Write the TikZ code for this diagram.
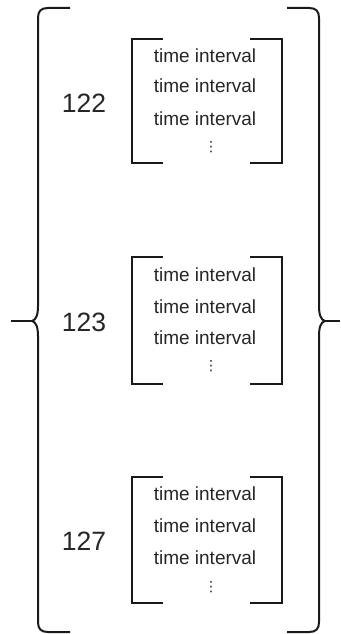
\documentclass[tikz,border=0pt]{standalone}
\usepackage{fontspec}
\setmainfont{Liberation Sans}
\newfontfamily\symfont{DejaVu Sans}
\definecolor{ink}{HTML}{1A1A1A}
\definecolor{txt}{HTML}{262626}
\begin{document}
\begin{tikzpicture}[x=1pt,y=-1pt,
  bracketline/.style={draw=ink, line width=2pt, line cap=butt},
  braceline/.style={draw=ink, line width=2pt},
  item/.style={inner sep=0pt, text=txt, font=\fontsize{19}{20}\selectfont},
  num/.style={inner sep=0pt, text=txt, font=\fontsize{26.5}{28}\selectfont},
  vdot/.style={inner sep=0pt, text=txt, font=\symfont\fontsize{14}{14}\selectfont}]
\useasboundingbox (0,0) rectangle (340,634);

% big braces
\draw[braceline] (70,8) -- (48,8) .. controls (41,8) and (38,11) .. (38,18)
  -- (38,306) .. controls (38,315) and (36,320) .. (32,321)
  .. controls (36,322) and (38,327) .. (38,336)
  -- (38,622) .. controls (38,629) and (41,632) .. (48,632) -- (70,632);
\draw[braceline] (32,321) -- (11,321);
\draw[braceline] (287,8) -- (309,8) .. controls (316,8) and (319,11) .. (319,18)
  -- (319,306) .. controls (319,315) and (321,320) .. (325,321)
  .. controls (321,322) and (319,327) .. (319,336)
  -- (319,622) .. controls (319,629) and (316,632) .. (309,632) -- (287,632);
\draw[braceline] (325,321) -- (340,321);

% block 1
\draw[bracketline] (163,39) -- (132,39) -- (132,163) -- (163,163);
\draw[bracketline] (250,39) -- (282,39) -- (282,163) -- (250,163);
\node[num] (n1) at (84,103) {122};
\node[item] (a1) at (205,56) {time interval};
\node[item] (a2) at (205,86) {time interval};
\node[item] (a3) at (205,119) {time interval};
\node[vdot] (a4) at (211,147) {⋮};

% block 2
\draw[bracketline] (163,257) -- (132,257) -- (132,384) -- (163,384);
\draw[bracketline] (250,257) -- (282,257) -- (282,384) -- (250,384);
\node[num] (n2) at (84,322.5) {123};
\node[item] (b1) at (205,275) {time interval};
\node[item] (b2) at (205,306.5) {time interval};
\node[item] (b3) at (205,338) {time interval};
\node[vdot] (b4) at (211,366) {⋮};

% block 3
\draw[bracketline] (163,477) -- (132,477) -- (132,603) -- (163,603);
\draw[bracketline] (250,477) -- (282,477) -- (282,603) -- (250,603);
\node[num] (n3) at (84,541) {127};
\node[item] (c1) at (205,494) {time interval};
\node[item] (c2) at (205,526) {time interval};
\node[item] (c3) at (205,557.5) {time interval};
\node[vdot] (c4) at (211,587) {⋮};
\end{tikzpicture}
\end{document}
